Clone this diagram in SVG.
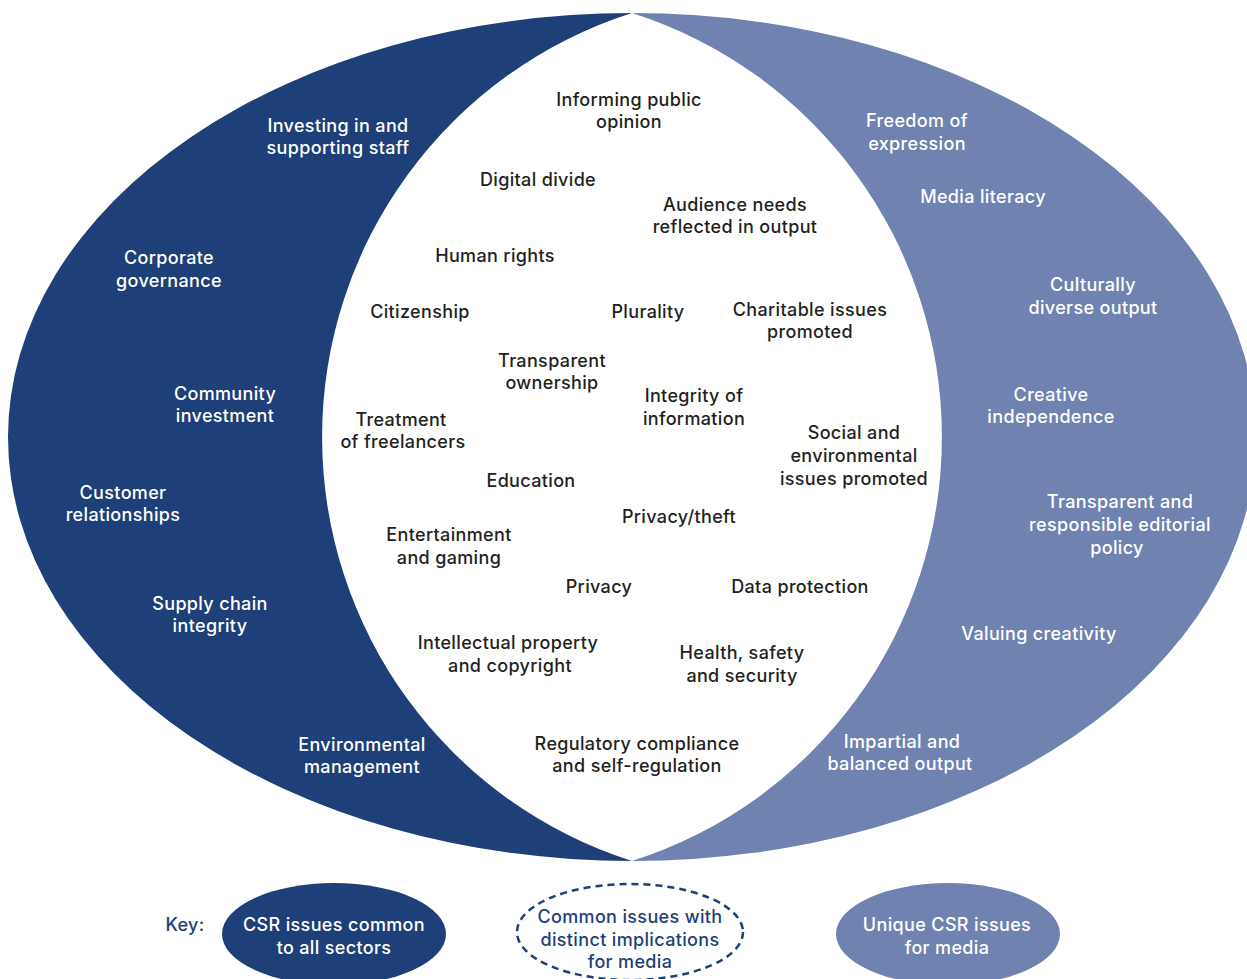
<svg xmlns="http://www.w3.org/2000/svg" width="1247" height="979" viewBox="0 0 1247 979">
<style>
text{font-family:"Inter","Liberation Sans",Arial,sans-serif;font-size:18px;font-weight:500;text-anchor:middle;letter-spacing:0.35px}
.c{fill:#231f20}
.w{fill:#ffffff}
.k{fill:#1e3f77}
.dark{fill:#1e3f77}
.light{fill:#7082b0}
</style>
<rect width="1247" height="979" fill="#ffffff"/>
<g id="shapes">
<path id="common-all" class="dark" d="M632,13 A624,424 0 0 0 632,861 A445,445 0 0 1 632,13 Z"/>
<path id="unique-media" class="light" d="M632,13 A624,424 0 0 1 632,861 A445,445 0 0 0 632,13 Z"/>
</g>
<g id="connectors"/>
<g id="center-labels" class="c" transform="translate(0,1)">
<g id="n-informing"><text x="629" y="105">Informing public</text><text x="629" y="127">opinion</text></g>
<g id="n-digital"><text x="538" y="185">Digital divide</text></g>
<g id="n-audience"><text x="735" y="210">Audience needs</text><text x="735" y="232">reflected in output</text></g>
<g id="n-human"><text x="495" y="261">Human rights</text></g>
<g id="n-citizenship"><text x="420" y="317">Citizenship</text></g>
<g id="n-plurality"><text x="648" y="317">Plurality</text></g>
<g id="n-charitable"><text x="810" y="315">Charitable issues</text><text x="810" y="337">promoted</text></g>
<g id="n-transparent"><text x="552" y="366">Transparent</text><text x="552" y="388">ownership</text></g>
<g id="n-integrity"><text x="694" y="401">Integrity of</text><text x="694" y="424">information</text></g>
<g id="n-treatment"><text x="401" y="425">Treatment</text><text x="403" y="447">of freelancers</text></g>
<g id="n-social"><text x="854" y="438">Social and</text><text x="854" y="461">environmental</text><text x="854" y="484">issues promoted</text></g>
<g id="n-education"><text x="531" y="486">Education</text></g>
<g id="n-privacytheft"><text x="679" y="522">Privacy/theft</text></g>
<g id="n-entertainment"><text x="449" y="540">Entertainment</text><text x="449" y="563">and gaming</text></g>
<g id="n-privacy"><text x="599" y="592">Privacy</text></g>
<g id="n-data"><text x="800" y="592">Data protection</text></g>
<g id="n-ip"><text x="508" y="648">Intellectual property</text><text x="510" y="671">and copyright</text></g>
<g id="n-health"><text x="742" y="658">Health, safety</text><text x="742" y="681">and security</text></g>
<g id="n-regulatory"><text x="637" y="749">Regulatory compliance</text><text x="637" y="771">and self-regulation</text></g>
</g>
<g id="left-labels" class="w" transform="translate(0,1)">
<g id="n-investing"><text x="338" y="131">Investing in and</text><text x="338" y="153">supporting staff</text></g>
<g id="n-corporate"><text x="169" y="263">Corporate</text><text x="169" y="286">governance</text></g>
<g id="n-community"><text x="225" y="399">Community</text><text x="225" y="421">investment</text></g>
<g id="n-customer"><text x="123" y="498">Customer</text><text x="123" y="520">relationships</text></g>
<g id="n-supply"><text x="210" y="609">Supply chain</text><text x="210" y="631">integrity</text></g>
<g id="n-environmental"><text x="362" y="750">Environmental</text><text x="362" y="772">management</text></g>
</g>
<g id="right-labels" class="w" transform="translate(0,1)">
<g id="n-freedom"><text x="917" y="126">Freedom of</text><text x="917" y="149">expression</text></g>
<g id="n-literacy"><text x="983" y="202">Media literacy</text></g>
<g id="n-culturally"><text x="1093" y="290">Culturally</text><text x="1093" y="313">diverse output</text></g>
<g id="n-creative"><text x="1051" y="400">Creative</text><text x="1051" y="422">independence</text></g>
<g id="n-editorial"><text x="1120" y="507">Transparent and</text><text x="1120" y="530">responsible editorial</text><text x="1117" y="553">policy</text></g>
<g id="n-valuing"><text x="1039" y="639">Valuing creativity</text></g>
<g id="n-impartial"><text x="902" y="747">Impartial and</text><text x="900" y="769">balanced output</text></g>
</g>
<g id="key" transform="translate(0,1)">
<text class="k" x="185" y="930">Key:</text>
<g id="key-common-all"><ellipse cx="334" cy="933" rx="112" ry="51" class="dark"/><text class="w" x="334" y="930">CSR issues common</text><text class="w" x="334" y="953">to all sectors</text></g>
<g id="key-distinct"><ellipse cx="630" cy="931" rx="113" ry="48" fill="none" stroke="#1e3f77" stroke-width="2.5" stroke-dasharray="7,5"/><text class="k" x="630" y="922">Common issues with</text><text class="k" x="630" y="945">distinct implications</text><text class="k" x="630" y="967">for media</text></g>
<g id="key-unique"><ellipse cx="948" cy="933" rx="112" ry="51" class="light"/><text class="w" x="947" y="930">Unique CSR issues</text><text class="w" x="947" y="953">for media</text></g>
</g>
</svg>
